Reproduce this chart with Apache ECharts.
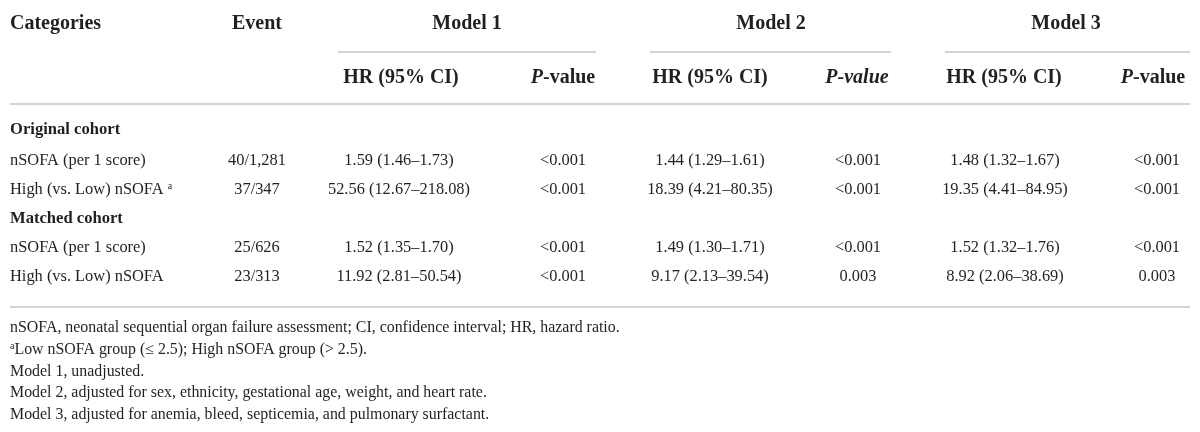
<!DOCTYPE html>
<html><head><meta charset="utf-8">
<script src="https://cdn.jsdelivr.net/npm/echarts@6/dist/echarts.min.js"></script>
<style>html,body{margin:0;padding:0;background:#fff}#c{width:1200px;height:432px}</style>
</head><body><div id="c"></div>
<script>
// ---- data ----
const headerTop = ['Categories', 'Event', 'Model 1', 'Model 2', 'Model 3'];
const headerSub = ['HR (95% CI)', 'P-value'];
const groups = ['Original cohort', 'Matched cohort'];
const categories = ['nSOFA (per 1 score)', 'High (vs. Low) nSOFA', 'nSOFA (per 1 score)', 'High (vs. Low) nSOFA'];
const categoryNote = ['', 'a', '', ''];
const events = ['40/1,281', '37/347', '25/626', '23/313'];
const model1HR = ['1.59 (1.46\u20131.73)', '52.56 (12.67\u2013218.08)', '1.52 (1.35\u20131.70)', '11.92 (2.81\u201350.54)'];
const model1P = ['<0.001', '<0.001', '<0.001', '<0.001'];
const model2HR = ['1.44 (1.29\u20131.61)', '18.39 (4.21\u201380.35)', '1.49 (1.30\u20131.71)', '9.17 (2.13\u201339.54)'];
const model2P = ['<0.001', '<0.001', '<0.001', '0.003'];
const model3HR = ['1.48 (1.32\u20131.67)', '19.35 (4.41\u201384.95)', '1.52 (1.32\u20131.76)', '8.92 (2.06\u201338.69)'];
const model3P = ['<0.001', '<0.001', '<0.001', '0.003'];
const footnotes = [
  'nSOFA, neonatal sequential organ failure assessment; CI, confidence interval; HR, hazard ratio.',
  '{sup|a}Low nSOFA group (\u2264 2.5); High nSOFA group (> 2.5).',
  'Model 1, unadjusted.',
  'Model 2, adjusted for sex, ethnicity, gestational age, weight, and heart rate.',
  'Model 3, adjusted for anemia, bleed, septicemia, and pulmonary surfactant.'
];

// ---- layout ----
const FONT = '"Liberation Serif", "DejaVu Serif", serif';
const INK = '#231f20';
const RULE = '#c6c6c6';
const colX = { cat: 10, event: 257, hr1: 399, p1: 563, hr2: 710, p2: 858, hr3: 1005, p3: 1157 };
const modelX = [467, 771, 1066];
const modelRule = [[338, 596], [650, 891], [945, 1190]];
const subX = [[401, 563], [710, 857], [1004, 1153]];
const yHead1 = 24, yRule1 = 52, yHead2 = 78, yRule2 = 104, yRule3 = 307;
const groupY = [130, 219];
const rowY = [161, 190, 248, 277];
const footY = [328, 350, 372, 393, 415];

const cells = [];
function cell(x, y, text, kind, align) { cells.push({ value: [x, y], text, kind, align: align || 'center' }); }

cell(colX.cat, yHead1, headerTop[0], 'head', 'left');
cell(colX.event, yHead1, headerTop[1], 'head');
for (let m = 0; m < 3; m++) {
  cell(modelX[m], yHead1, headerTop[2 + m], 'head');
  cell(subX[m][0], yHead2, headerSub[0], 'head');
  cell(subX[m][1], yHead2, m === 1 ? '{bi|P-value}' : '{bi|P}-value', 'head');
}
groups.forEach((g, i) => cell(colX.cat, groupY[i], g, 'group', 'left'));
categories.forEach((c, i) => {
  cell(colX.cat, rowY[i], categoryNote[i] ? c + ' {sup|' + categoryNote[i] + '}' : c, 'body', 'left');
  cell(colX.event, rowY[i], events[i], 'body');
  cell(colX.hr1, rowY[i], model1HR[i], 'body');
  cell(colX.p1, rowY[i], model1P[i], 'body');
  cell(colX.hr2, rowY[i], model2HR[i], 'body');
  cell(colX.p2, rowY[i], model2P[i], 'body');
  cell(colX.hr3, rowY[i], model3HR[i], 'body');
  cell(colX.p3, rowY[i], model3P[i], 'body');
});
footnotes.forEach((f, i) => cell(colX.cat, footY[i], f, 'foot', 'left'));

const rules = [];
modelRule.forEach(r => rules.push([r[0], yRule1, r[1]]));
rules.push([10, yRule2, 1190]);
rules.push([10, yRule3, 1190]);

const styles = {
  head: { size: 20, weight: 'bold' },
  group: { size: 16.6, weight: 'bold' },
  body: { size: 16.4, weight: 'normal' },
  foot: { size: 15.9, weight: 'normal' }
};

const chart = echarts.init(document.getElementById('c'), null, { renderer: 'canvas' });
chart.setOption({
  backgroundColor: '#fff',
  animation: false,
  grid: { left: 0, right: 0, top: 0, bottom: 0 },
  xAxis: { type: 'value', min: 0, max: 1200, show: false },
  yAxis: { type: 'value', min: 0, max: 432, inverse: true, show: false },
  series: [
    {
      type: 'custom',
      coordinateSystem: 'cartesian2d',
      data: rules,
      encode: { x: [0, 2], y: 1 },
      renderItem: function (params, api) {
        const a = api.coord([api.value(0), api.value(1)]);
        const b = api.coord([api.value(2), api.value(1)]);
        return { type: 'line', shape: { x1: a[0], y1: a[1], x2: b[0], y2: b[1] }, style: { stroke: RULE, lineWidth: 1.6 } };
      }
    },
    {
      type: 'custom',
      coordinateSystem: 'cartesian2d',
      data: cells,
      encode: { x: 0, y: 1 },
      renderItem: function (params, api) {
        const c = cells[params.dataIndex];
        const p = api.coord([api.value(0), api.value(1)]);
        const s = styles[c.kind];
        return {
          type: 'text',
          x: p[0], y: p[1],
          style: {
            text: c.text,
            fill: INK,
            font: s.weight + ' ' + s.size + 'px ' + FONT,
            fontFamily: FONT, fontSize: s.size, fontWeight: s.weight,
            align: c.align, verticalAlign: 'middle',
            rich: {
              bi: { fontStyle: 'italic', fontWeight: 'bold', fontSize: s.size, fontFamily: FONT, fill: INK },
              sup: { fontSize: Math.round(s.size * 0.6), fontFamily: FONT, fill: INK, verticalAlign: 'top', padding: [0, 0, 8, 0] }
            }
          }
        };
      }
    }
  ]
});
</script></body></html>
